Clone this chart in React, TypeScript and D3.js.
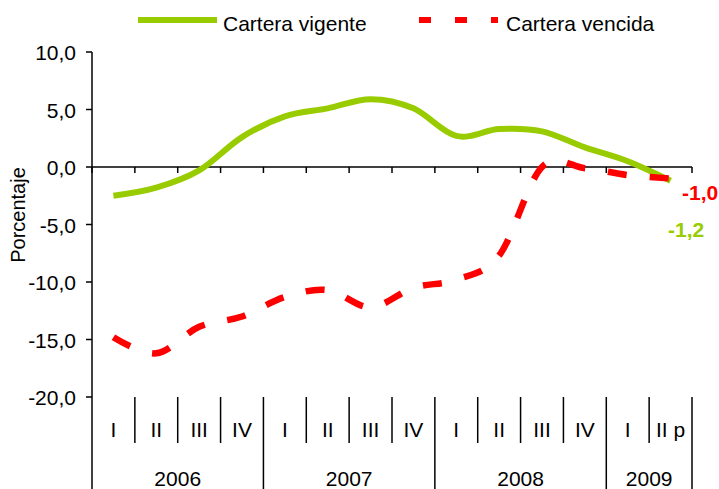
import React from "react";
import * as d3 from "d3";

const quarters = ["I", "II", "III", "IV", "I", "II", "III", "IV", "I", "II", "III", "IV", "I", "II p"];
const years = ["2006", "2007", "2008", "2009"];
const quartersPerYear = [4, 4, 4, 2];
const vigente = [-2.5, -1.8, -0.3, 2.6, 4.4, 5.1, 5.9, 5.1, 2.7, 3.3, 3.1, 1.7, 0.5, -1.2];
const vencida = [-14.8, -16.2, -13.9, -13.0, -11.3, -10.7, -12.2, -10.5, -9.8, -7.7, 0.0, -0.1, -0.7, -1.0];
const yTicks = [10, 5, 0, -5, -10, -15, -20];
const seriesNames = ["Cartera vigente", "Cartera vencida"];

const W = 719;
const H = 489;
const GREEN = "#99CC00";
const RED = "#FF0000";
const FONT = "Arial, 'Liberation Sans', sans-serif";

export default function App() {
  const x = d3.scaleBand<number>().domain(d3.range(quarters.length)).range([92, 692]).padding(0);
  const cx = (i: number) => (x(i) as number) + x.bandwidth() / 2;
  const y = d3.scaleLinear().domain([-20, 10]).range([397, 52]);
  const fmt = (v: number) => d3.format(".1f")(v).replace(".", ",").replace("−", "-");

  const line = d3
    .line<number>()
    .x((_, i) => cx(i))
    .y((d) => y(d))
    .curve(d3.curveCardinal.tension(0));

  const bottomY = y(-20);
  let acc = 0;
  const yearBounds = quartersPerYear.map((n) => {
    const start = acc;
    acc += n;
    return { start, end: acc };
  });

  return (
    <svg width={W} height={H} style={{ position: "absolute", left: 0, top: 0, background: "#fff" }} fontFamily={FONT}>
      {/* Legend */}
      <line x1={138} x2={217} y1={20} y2={20} stroke={GREEN} strokeWidth={6} />
      <text x={223} y={31} fontSize={21} fill="#000">{seriesNames[0]}</text>
      <line x1={419} x2={498} y1={20} y2={20} stroke={RED} strokeWidth={6} strokeDasharray="12 24" />
      <text x={506} y={31} fontSize={21} fill="#000">{seriesNames[1]}</text>

      {/* Y axis */}
      <line x1={92} x2={92} y1={y(10)} y2={H} stroke="#000" strokeWidth={1.5} />
      {yTicks.map((t) => (
        <g key={t}>
          <line x1={86} x2={92} y1={y(t)} y2={y(t)} stroke="#000" strokeWidth={1.5} />
          <text x={76} y={y(t) + 8} fontSize={21} textAnchor="end" fill="#000">{fmt(t)}</text>
        </g>
      ))}
      <text
        transform={`translate(25,215) rotate(-90)`}
        fontSize={20}
        textAnchor="middle"
        fill="#000"
      >
        Porcentaje
      </text>

      {/* X axis at zero */}
      <line x1={92} x2={692} y1={y(0)} y2={y(0)} stroke="#000" strokeWidth={1.5} />
      {d3.range(quarters.length + 1).map((i) => {
        const xx = i < quarters.length ? (x(i) as number) : 692;
        return <line key={i} x1={xx} x2={xx} y1={y(0)} y2={y(0) + 6} stroke="#000" strokeWidth={1.5} />;
      })}

      {/* Category axis below */}
      {d3.range(1, quarters.length + 1).map((i) => {
        const xx = i < quarters.length ? (x(i) as number) : 692;
        const isYear = yearBounds.some((b) => b.end === i);
        return (
          <line key={"s" + i} x1={xx} x2={xx} y1={bottomY} y2={isYear ? H : 443} stroke="#000" strokeWidth={1.5} />
        );
      })}
      {quarters.map((q, i) => (
        <text key={"q" + i} x={cx(i)} y={437} fontSize={21} textAnchor="middle" fill="#000">{q}</text>
      ))}
      {years.map((yr, k) => {
        const b = yearBounds[k];
        const mid = ((x(b.start) as number) + (b.end < quarters.length ? (x(b.end) as number) : 692)) / 2;
        return (
          <text key={yr} x={mid} y={486} fontSize={21} textAnchor="middle" fill="#000">{yr}</text>
        );
      })}

      {/* Series */}
      <path d={line(vigente) || ""} fill="none" stroke={GREEN} strokeWidth={6} strokeLinejoin="round" />
      <path d={line(vencida) || ""} fill="none" stroke={RED} strokeWidth={6.5} strokeDasharray="19 23" />

      {/* End labels */}
      <text x={682} y={200} fontSize={21} fontWeight="bold" fill={RED}>{fmt(vencida[vencida.length - 1])}</text>
      <text x={668} y={237} fontSize={21} fontWeight="bold" fill={GREEN}>{fmt(vigente[vigente.length - 1])}</text>
    </svg>
  );
}
